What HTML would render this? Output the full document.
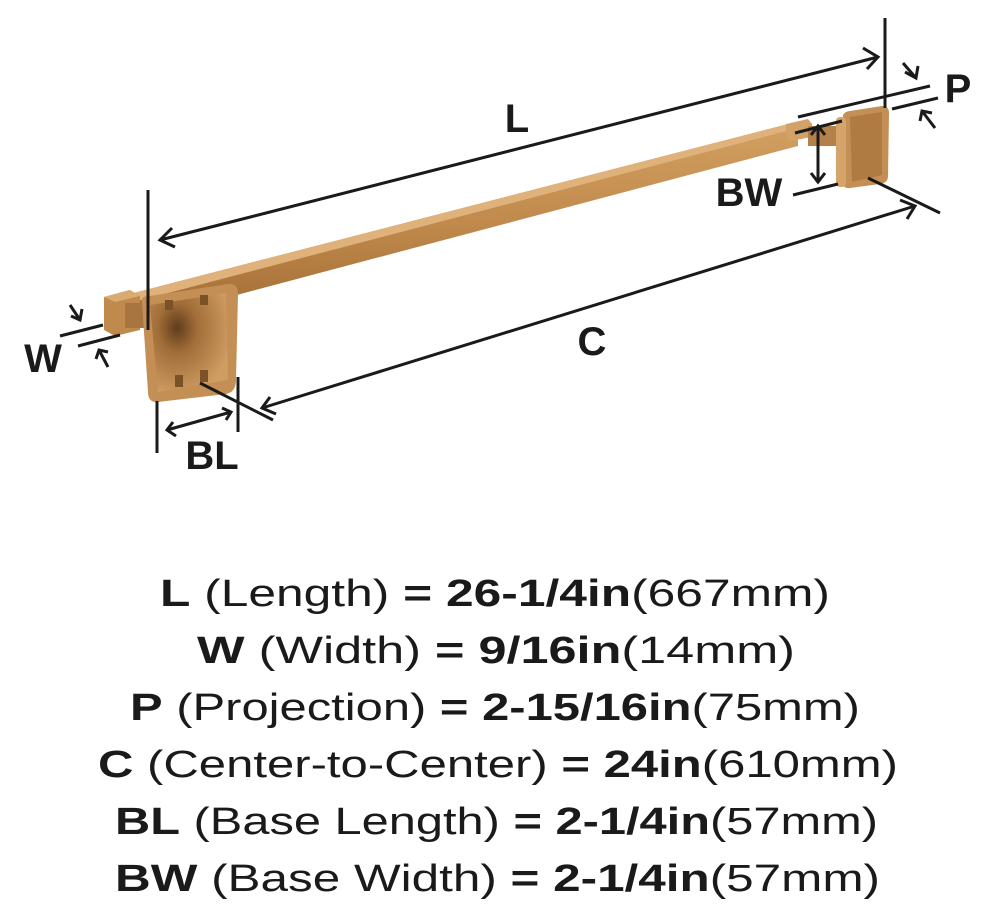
<!DOCTYPE html>
<html><head><meta charset="utf-8"><style>
html,body{margin:0;padding:0;background:#fff;}
svg{display:block;}
</style></head><body>
<svg width="990" height="920" viewBox="0 0 990 920" xmlns="http://www.w3.org/2000/svg">
<defs>
<linearGradient id="bar" x1="0" y1="0" x2="0" y2="1">
<stop offset="0" stop-color="#d2a062"/><stop offset="0.5" stop-color="#c18a4c"/><stop offset="1" stop-color="#a06a33"/>
</linearGradient>
<radialGradient id="plate" cx="0.35" cy="0.35" r="0.7">
<stop offset="0" stop-color="#5e3c1c"/><stop offset="0.35" stop-color="#a06c38"/><stop offset="1" stop-color="#cf9c62"/>
</radialGradient>
</defs>
<!-- bar -->
<polygon points="122,296 788,124 798,128 798,146 135,322 122,318" fill="url(#bar)"/>
<polygon points="122,296 788,124 794,129 130,303" fill="#deb27a"/>
<!-- left end cap -->
<polygon points="104,297 130,290 140,296 140,330 115,336 104,330" fill="#c08a4e"/>
<polygon points="104,297 130,290 140,296 115,302" fill="#d8ab72"/>
<rect x="125" y="303" width="22" height="25" fill="#a87440"/>
<!-- left plate -->
<path d="M142,302 Q140,296 150,296 L228,284 Q238,283 238,294 L236,380 Q236,392 226,394 L158,402 Q148,403 148,392 Z" fill="#c48f54"/>
<path d="M150,305 L226,293 L228,380 L158,392 Z" fill="url(#plate)"/>
<rect x="165" y="300" width="8" height="10" fill="#7a5228"/>
<rect x="200" y="295" width="8" height="10" fill="#7a5228"/>
<rect x="175" y="375" width="8" height="12" fill="#7a5228"/>
<rect x="200" y="370" width="8" height="12" fill="#7a5228"/>
<!-- right bracket -->
<polygon points="786,124 808,119 812,124 812,137 790,141 786,134" fill="#d2a268"/>
<rect x="808" y="126" width="38" height="20" fill="#b5814a"/>
<path d="M843,118 Q842,112 850,111 L882,106 Q889,106 889,113 L888,176 Q888,183 880,184 L850,188 Q843,189 843,182 Z" fill="#c48f54"/>
<path d="M850,117 L882,112 L882,175 L852,182 Z" fill="#b07a43"/>
<rect x="836" y="117" width="10" height="70" rx="4" fill="#d4a46b"/>
<g stroke="#1a1a1a" stroke-width="3" fill="none" stroke-linecap="butt">
<line x1="148" y1="190" x2="148" y2="330"/>
<line x1="885" y1="18" x2="885" y2="108"/>
<line x1="160" y1="240" x2="878" y2="57"/>
<polyline points="172,228 160,240 175,247"/>
<polyline points="863,48 878,57 867,69"/>
<line x1="798" y1="117" x2="930" y2="86"/>
<line x1="892" y1="109" x2="938" y2="98"/>
<line x1="903" y1="63" x2="916" y2="78"/>
<polyline points="905,72 916,78 918,66"/>
<line x1="935" y1="128" x2="922" y2="111"/>
<polyline points="920,121 922,111 932,113"/>
<line x1="795" y1="133" x2="842" y2="121"/>
<line x1="793" y1="195" x2="838" y2="184"/>
<line x1="818" y1="126" x2="818" y2="182"/>
<polyline points="811,135 818,126 825,135"/>
<polyline points="811,173 818,182 825,173"/>
<line x1="868" y1="178" x2="940" y2="213"/>
<line x1="200" y1="383" x2="273" y2="420"/>
<line x1="262" y1="408" x2="915" y2="206"/>
<polyline points="270,397 262,408 276,414"/>
<polyline points="900,200 915,206 907,219"/>
<line x1="157" y1="401" x2="157" y2="453"/>
<line x1="238" y1="377" x2="238" y2="432"/>
<line x1="167" y1="430" x2="231" y2="412"/>
<polyline points="173,422 167,430 176,436"/>
<polyline points="222,408 231,412 226,420"/>
<line x1="60" y1="336" x2="103" y2="325"/>
<line x1="78" y1="346" x2="120" y2="335"/>
<line x1="70" y1="305" x2="80" y2="320"/>
<polyline points="71,316 80,320 82,309"/>
<line x1="108" y1="367" x2="99" y2="350"/>
<polyline points="96,359 99,350 108,352"/>
</g>
<g font-family="Liberation Sans, sans-serif" font-weight="bold" fill="#1a1a1a" font-size="40">
<text x="517" y="132" text-anchor="middle">L</text>
<text x="592" y="355" text-anchor="middle">C</text>
<text x="958" y="102" text-anchor="middle">P</text>
<text x="749" y="206" text-anchor="middle">BW</text>
<text x="43" y="372" text-anchor="middle">W</text>
<text x="212" y="469" text-anchor="middle">BL</text>
</g>
<g font-family="Liberation Sans, sans-serif" fill="#1a1a1a" font-size="38">
<text x="160" y="606" textLength="670" lengthAdjust="spacingAndGlyphs"><tspan font-weight="bold">L</tspan> (Length) <tspan font-weight="bold">= 26-1/4in</tspan>(667mm)</text>
<text x="197" y="663" textLength="598" lengthAdjust="spacingAndGlyphs"><tspan font-weight="bold">W</tspan> (Width) <tspan font-weight="bold">= 9/16in</tspan>(14mm)</text>
<text x="130" y="720" textLength="730" lengthAdjust="spacingAndGlyphs"><tspan font-weight="bold">P</tspan> (Projection) <tspan font-weight="bold">= 2-15/16in</tspan>(75mm)</text>
<text x="98" y="777" textLength="800" lengthAdjust="spacingAndGlyphs"><tspan font-weight="bold">C</tspan> (Center-to-Center) <tspan font-weight="bold">= 24in</tspan>(610mm)</text>
<text x="115" y="834" textLength="763" lengthAdjust="spacingAndGlyphs"><tspan font-weight="bold">BL</tspan> (Base Length) <tspan font-weight="bold">= 2-1/4in</tspan>(57mm)</text>
<text x="115" y="891" textLength="765" lengthAdjust="spacingAndGlyphs"><tspan font-weight="bold">BW</tspan> (Base Width) <tspan font-weight="bold">= 2-1/4in</tspan>(57mm)</text>
</g>
</svg>
</body></html>
